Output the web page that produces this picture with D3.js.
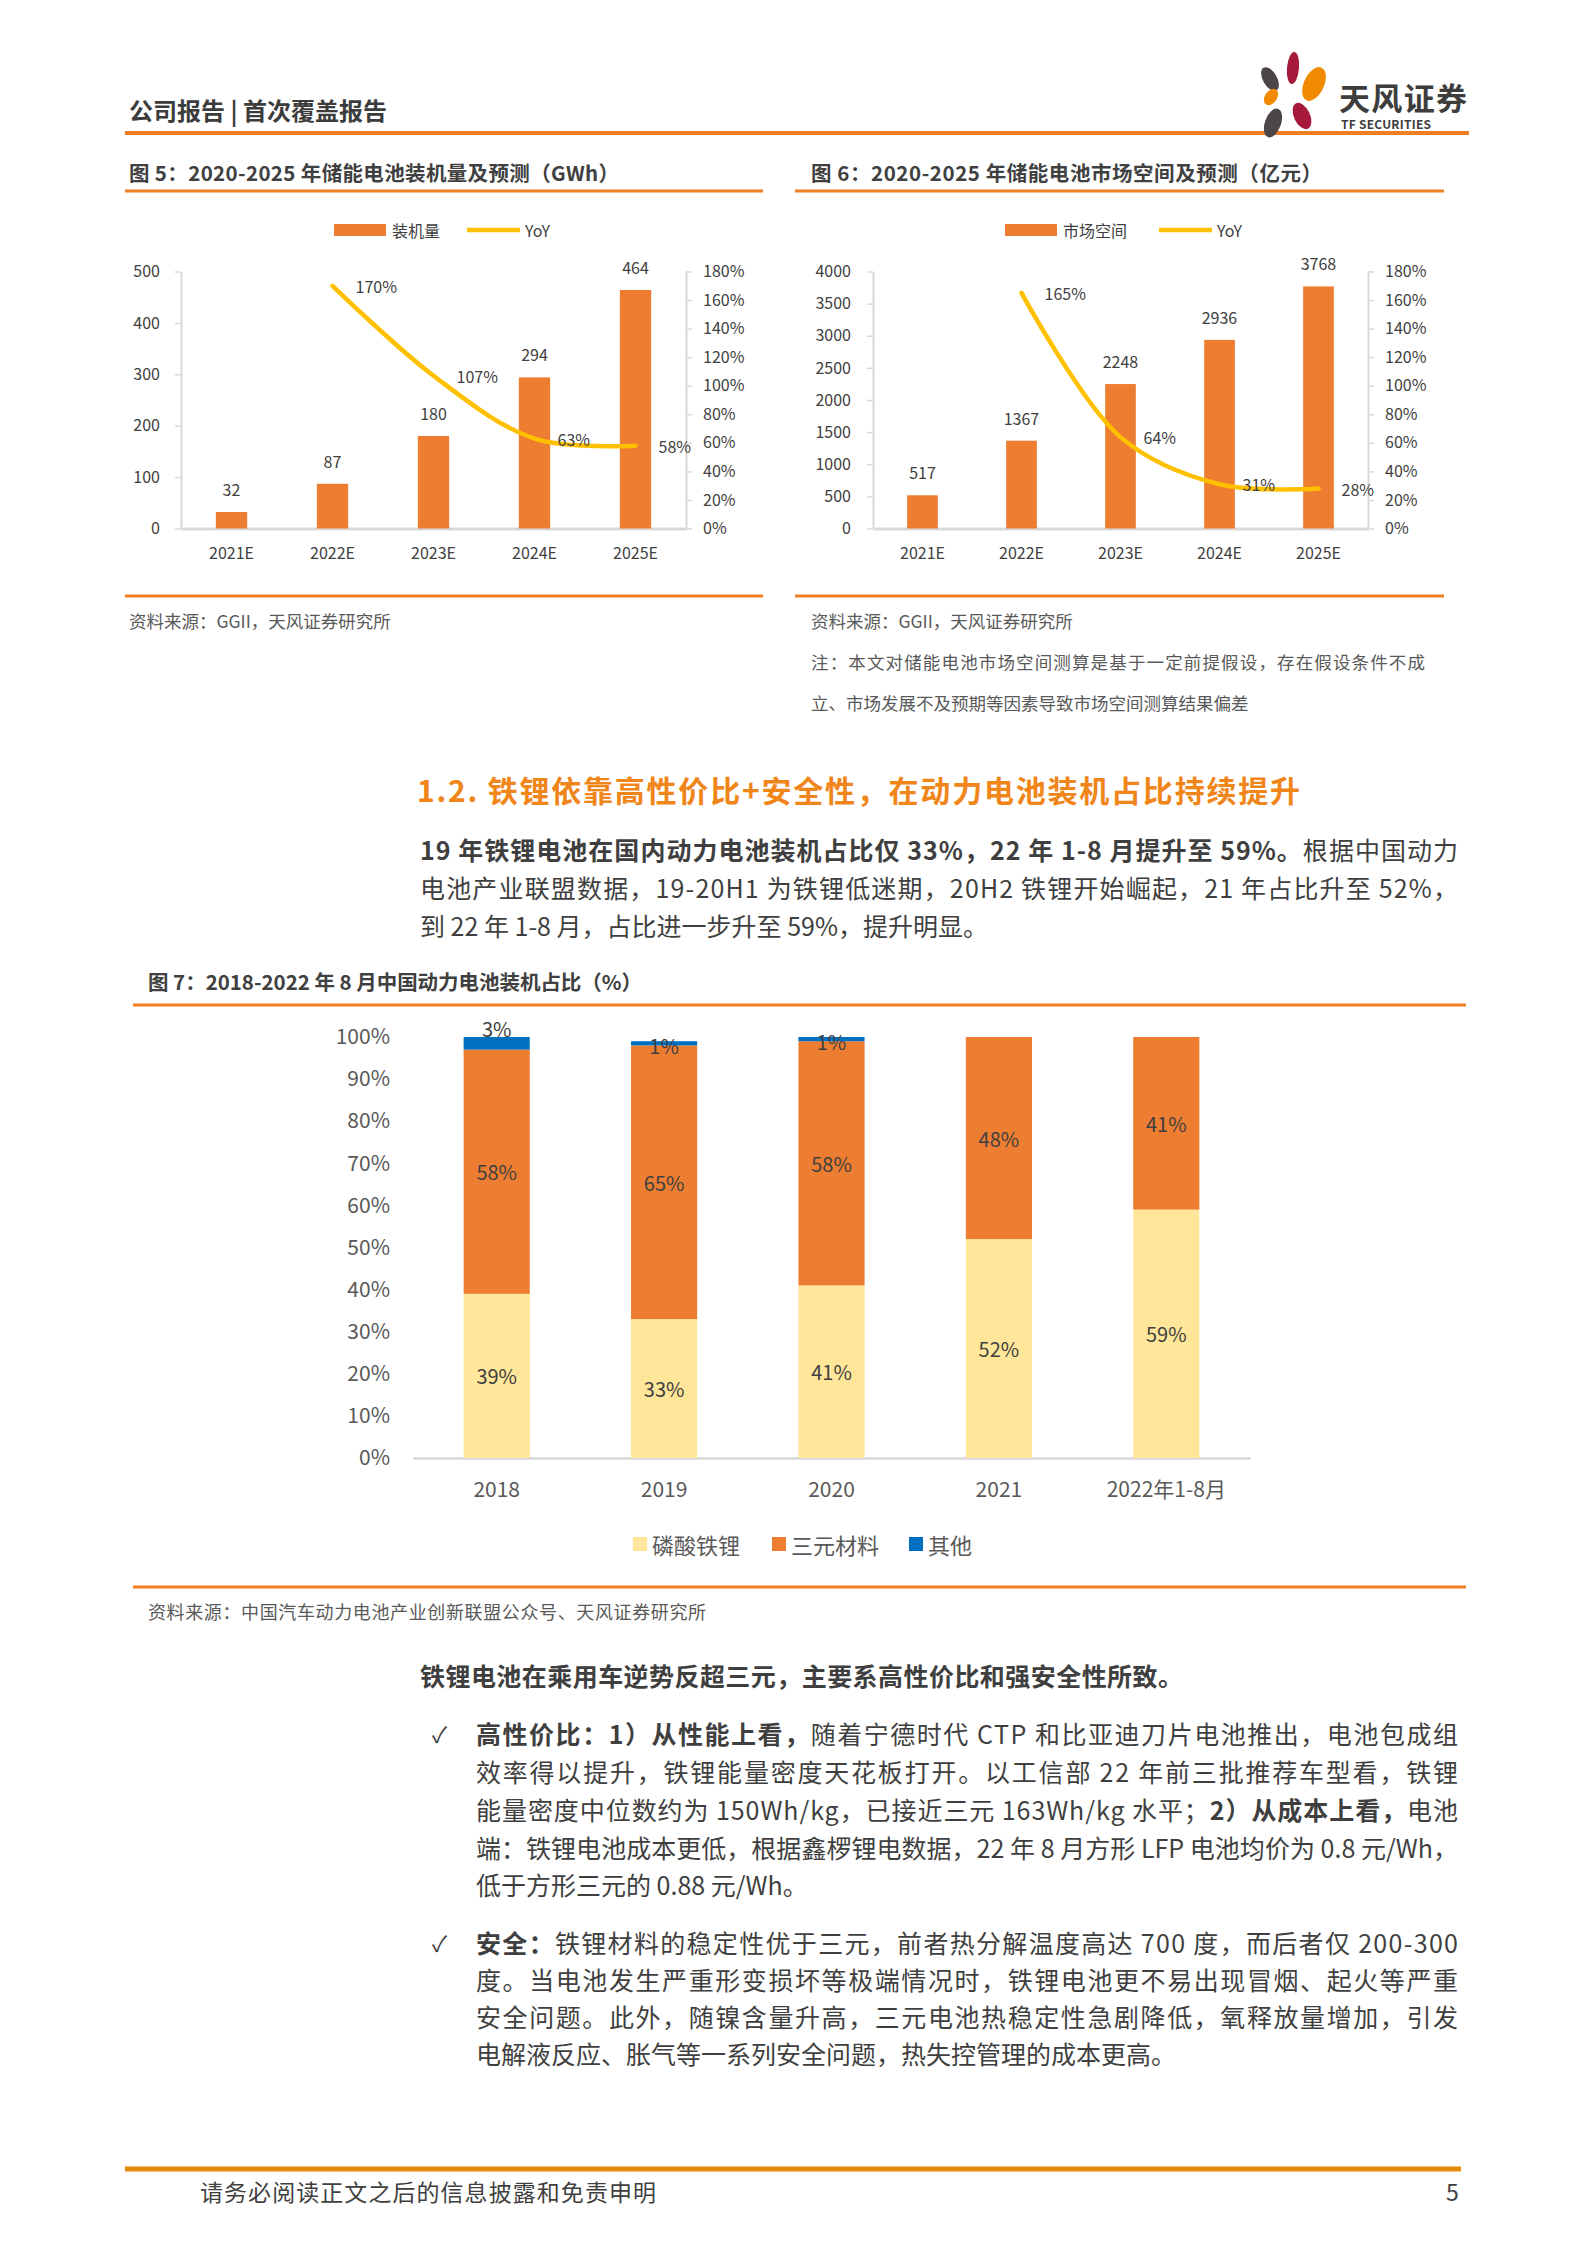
<!DOCTYPE html>
<html><head><meta charset="utf-8">
<script src="https://cdn.jsdelivr.net/npm/d3@7"></script>
<style>
body{margin:0;background:#fff;}
svg{display:block;}
text{font-family:"Noto Sans CJK SC","Noto Sans","DejaVu Sans",sans-serif;}
</style></head><body>
<svg id="page" width="1587" height="2245"></svg>
<script>
// ---------------- DATA ----------------
const fig5Years = ["2021E","2022E","2023E","2024E","2025E"];
const fig5Install = [32, 87, 180, 294, 464];
const fig5YoY = [null, 170, 107, 63, 58];
const fig5LeftTicks = [0,100,200,300,400,500];
const fig5RightTicks = [0,20,40,60,80,100,120,140,160,180];

const fig6Years = ["2021E","2022E","2023E","2024E","2025E"];
const fig6Market = [517, 1367, 2248, 2936, 3768];
const fig6YoY = [null, 165, 64, 31, 28];
const fig6LeftTicks = [0,500,1000,1500,2000,2500,3000,3500,4000];
const fig6RightTicks = [0,20,40,60,80,100,120,140,160,180];

const fig7Cats = ["2018","2019","2020","2021","2022年1-8月"];
const fig7LFP = [39, 33, 41, 52, 59];
const fig7NCM = [58, 65, 58, 48, 41];
const fig7Other = [3, 1, 1, 0, 0];
const fig7SeriesNames = ["磷酸铁锂","三元材料","其他"];
const fig7Ticks = [0,10,20,30,40,50,60,70,80,90,100];

// ---------------- COLORS ----------------
const ORANGE = "#ED7D31", YELLOW = "#FFC000", LIGHTY = "#FFE699", BLUE = "#0070C0";
const TXT = "#404040", AX = "#D9D9D9", RULE = "#EE7F22";

const page = d3.select("#page");

function text(x, y, str, o = {}) {
  const t = page.append("text").attr("x", x).attr("y", y)
    .attr("font-size", o.size || 16).attr("fill", o.color || TXT)
    .attr("font-weight", o.bold ? 700 : 400)
    .attr("text-anchor", o.anchor || "start")
    .attr("dominant-baseline", "central").text(str);
  if (o.width) t.attr("textLength", o.width).attr("lengthAdjust", "spacing");
  return t;
}
function rich(x, y, segs, o = {}) {
  const t = page.append("text").attr("x", x).attr("y", y)
    .attr("font-size", o.size || 25).attr("fill", o.color || "#3f3f3f")
    .attr("dominant-baseline", "central");
  segs.forEach(s => t.append("tspan").attr("font-weight", s.b ? 700 : 400).text(s.t));
  if (o.width) t.attr("textLength", o.width).attr("lengthAdjust", "spacing");
  return t;
}
function rule(x1, x2, y, w, c) {
  page.append("line").attr("x1", x1).attr("x2", x2).attr("y1", y).attr("y2", y)
    .attr("stroke", c || RULE).attr("stroke-width", w);
}

// ---------------- HEADER ----------------
text(129, 109, "公司报告 | 首次覆盖报告", {size: 24, bold: true, color: "#3c3c3c"});
rule(125, 1469, 133, 4);
// logo petals
const petals = [
  {cx:1293, cy:68, rx:6, ry:16, r:5, c:"#A6193A"},
  {cx:1314, cy:84, rx:10, ry:18, r:25, c:"#F08A00"},
  {cx:1270, cy:79, rx:7, ry:13, r:-30, c:"#4D4646"},
  {cx:1271, cy:97, rx:6, ry:9, r:35, c:"#F08A00"},
  {cx:1302, cy:116, rx:8, ry:14, r:-25, c:"#A6193A"},
  {cx:1273, cy:123, rx:8, ry:15, r:20, c:"#4D4646"}
];
page.selectAll("ellipse.petal").data(petals).join("ellipse").attr("class","petal")
  .attr("cx", d => d.cx).attr("cy", d => d.cy).attr("rx", d => d.rx).attr("ry", d => d.ry)
  .attr("transform", d => `rotate(${d.r},${d.cx},${d.cy})`).attr("fill", d => d.c);
text(1339, 96, "天风证券", {size: 31, bold: true, color: "#3d3d3d", width: 128});
text(1341, 123, "TF SECURITIES", {size: 12, bold: true, color: "#3d3d3d", width: 90});

// ---------------- COMBO CHART (fig5 / fig6) ----------------
function drawCombo(c) {
  const x = d3.scaleBand().domain(c.years).range([c.x0, c.x1]);
  const yL = d3.scaleLinear().domain([0, d3.max(c.leftTicks)]).range([c.yBot, c.yTop]);
  const yR = d3.scaleLinear().domain([0, d3.max(c.rightTicks)]).range([c.yBot, c.yTop]);
  const g = page.append("g");

  const gl = g.append("g").attr("transform", `translate(${c.x0},0)`)
    .call(d3.axisLeft(yL).tickValues(c.leftTicks).tickFormat(d3.format("d")).tickSize(6).tickSizeOuter(0).tickPadding(c.padL));
  const gr = g.append("g").attr("transform", `translate(${c.x1},0)`)
    .call(d3.axisRight(yR).tickValues(c.rightTicks).tickFormat(d => d + "%").tickSize(6).tickSizeOuter(0).tickPadding(c.padR));
  const gb = g.append("g").attr("transform", `translate(0,${c.yBot})`)
    .call(d3.axisBottom(x).tickSize(0).tickSizeOuter(0).tickPadding(19));
  [gl, gr, gb].forEach(a => {
    a.select(".domain").attr("stroke", AX).attr("stroke-width", 2);
    a.selectAll(".tick line").attr("stroke", AX).attr("stroke-width", 1.5);
    a.selectAll("text").attr("fill", TXT).attr("font-size", 16)
      .attr("font-family", '"Noto Sans CJK SC","Noto Sans",sans-serif');
  });
  gb.select(".domain").attr("stroke-width", 3);

  const bw = x.bandwidth() * 0.31;
  const data = c.years.map((yr, i) => ({yr, v: c.values[i], yoy: c.yoy[i]}));
  g.selectAll("rect.bar").data(data).join("rect").attr("class", "bar")
    .attr("x", d => x(d.yr) + x.bandwidth() / 2 - bw / 2).attr("width", bw)
    .attr("y", d => yL(d.v)).attr("height", d => c.yBot - yL(d.v)).attr("fill", ORANGE);
  g.selectAll("text.vl").data(data).join("text").attr("class", "vl")
    .attr("x", d => x(d.yr) + x.bandwidth() / 2).attr("y", d => yL(d.v) - 23)
    .attr("text-anchor", "middle").attr("dominant-baseline", "central")
    .attr("font-size", 16).attr("fill", TXT).text(d => d.v);

  const line = d3.line().defined(d => d.yoy != null)
    .x(d => x(d.yr) + x.bandwidth() / 2).y(d => yR(d.yoy)).curve(d3.curveCatmullRom.alpha(0.5));
  g.append("path").datum(data).attr("d", line).attr("fill", "none")
    .attr("stroke", YELLOW).attr("stroke-width", 4.5).attr("stroke-linecap", "round");
  g.selectAll("text.yl").data(data.filter(d => d.yoy != null)).join("text").attr("class", "yl")
    .attr("x", d => x(d.yr) + x.bandwidth() / 2 + 23).attr("y", d => yR(d.yoy))
    .attr("dominant-baseline", "central").attr("font-size", 16).attr("fill", TXT)
    .text(d => d.yoy + "%");

  // legend
  g.append("rect").attr("x", c.lg.rx).attr("y", c.lg.y - 6).attr("width", 52).attr("height", 12).attr("fill", ORANGE);
  text(c.lg.rx + 58, c.lg.y, c.name, {size: 16});
  g.append("line").attr("x1", c.lg.lx).attr("x2", c.lg.lx + 53).attr("y1", c.lg.y).attr("y2", c.lg.y)
    .attr("stroke", YELLOW).attr("stroke-width", 4.5);
  text(c.lg.lx + 58, c.lg.y, "YoY", {size: 16});
}

// fig 5
text(129, 172, "图 5：2020-2025 年储能电池装机量及预测（GWh）", {size: 20.5, bold: true, width: 490});
rule(125, 763, 191, 3);
drawCombo({years: fig5Years, values: fig5Install, yoy: fig5YoY, leftTicks: fig5LeftTicks, rightTicks: fig5RightTicks,
  x0: 181, x1: 686, yTop: 271.5, yBot: 528.5, padL: 15, padR: 11, name: "装机量",
  lg: {rx: 334, lx: 467, y: 230}});
rule(125, 763, 596, 3);
text(129, 620, "资料来源：GGII，天风证券研究所", {size: 17.5, color: "#595959"});

// fig 6
text(811, 172, "图 6：2020-2025 年储能电池市场空间及预测（亿元）", {size: 20.5, bold: true, width: 511});
rule(795, 1444, 191, 3);
drawCombo({years: fig6Years, values: fig6Market, yoy: fig6YoY, leftTicks: fig6LeftTicks, rightTicks: fig6RightTicks,
  x0: 873, x1: 1368, yTop: 271.5, yBot: 528.5, padL: 16, padR: 11, name: "市场空间",
  lg: {rx: 1005, lx: 1159, y: 230}});
rule(795, 1444, 596, 3);
text(811, 620, "资料来源：GGII，天风证券研究所", {size: 17.5, color: "#595959"});
text(811, 661, "注：本文对储能电池市场空间测算是基于一定前提假设，存在假设条件不成", {size: 17.5, color: "#595959", width: 614});
text(811, 702, "立、市场发展不及预期等因素导致市场空间测算结果偏差", {size: 17.5, color: "#595959"});

// ---------------- SECTION TEXT ----------------
text(417, 789, "1.2. 铁锂依靠高性价比+安全性，在动力电池装机占比持续提升", {size: 30, bold: true, color: "#F08519", width: 883});
const W1 = 1038;
rich(420, 849, [{t: "19 年铁锂电池在国内动力电池装机占比仅 33%，22 年 1-8 月提升至 59%。", b: true}, {t: "根据中国动力"}], {width: W1});
rich(420, 887, [{t: "电池产业联盟数据，19-20H1 为铁锂低迷期，20H2 铁锂开始崛起，21 年占比升至 52%，"}], {width: W1});
rich(420, 925, [{t: "到 22 年 1-8 月，占比进一步升至 59%，提升明显。"}]);

// ---------------- FIG 7 ----------------
text(148, 981, "图 7：2018-2022 年 8 月中国动力电池装机占比（%）", {size: 20.5, bold: true, width: 494});
rule(133, 1466, 1005, 3);
(function () {
  const x = d3.scaleBand().domain(fig7Cats).range([413, 1250]);
  const y = d3.scaleLinear().domain([0, 100]).range([1458, 1037]);
  const g = page.append("g");
  const gl = g.append("g").attr("transform", "translate(413,0)")
    .call(d3.axisLeft(y).tickValues(fig7Ticks).tickFormat(d => d + "%").tickSize(0).tickPadding(23));
  gl.select(".domain").remove();
  gl.selectAll("text").attr("fill", "#595959").attr("font-size", 21)
    .attr("font-family", '"Noto Sans CJK SC","Noto Sans",sans-serif');
  const gb = g.append("g").attr("transform", "translate(0,1458)")
    .call(d3.axisBottom(x).tickSize(0).tickSizeOuter(0).tickPadding(24));
  gb.select(".domain").attr("stroke", AX).attr("stroke-width", 2.5);
  gb.selectAll("text").attr("fill", "#595959").attr("font-size", 21)
    .attr("font-family", '"Noto Sans CJK SC","Noto Sans",sans-serif');

  const rows = fig7Cats.map((cat, i) => ({cat, LFP: fig7LFP[i], NCM: fig7NCM[i], Other: fig7Other[i]}));
  const stack = d3.stack().keys(["LFP", "NCM", "Other"])(rows);
  const colors = [LIGHTY, ORANGE, BLUE];
  const bw = x.bandwidth() * 0.395;
  stack.forEach((layer, li) => {
    g.selectAll("rect.s" + li).data(layer.filter(d => d[1] > d[0])).join("rect").attr("class", "s" + li)
      .attr("x", d => x(d.data.cat) + x.bandwidth() / 2 - bw / 2).attr("width", bw)
      .attr("y", d => y(d[1])).attr("height", d => y(d[0]) - y(d[1])).attr("fill", colors[li]);
  });
  stack.forEach((layer, li) => {
    layer.filter(d => d[1] > d[0]).forEach(d => {
      const v = d[1] - d[0];
      let yy = y((d[0] + d[1]) / 2);
      if (li === 2) yy = v >= 2 ? y(d[1]) - 9 : y(d[1]) + 4;
      text(x(d.data.cat) + x.bandwidth() / 2, yy, v + "%", {size: 20, anchor: "middle", color: TXT});
    });
  });
  // legend
  const lx = [633, 772, 909];
  fig7SeriesNames.forEach((n, i) => {
    g.append("rect").attr("x", lx[i]).attr("y", 1537).attr("width", 14).attr("height", 14).attr("fill", colors[i]);
    text(lx[i] + 19, 1544, n, {size: 22, color: "#595959"});
  });
})();
rule(133, 1466, 1587, 3);
text(148, 1611, "资料来源：中国汽车动力电池产业创新联盟公众号、天风证券研究所", {size: 18, color: "#595959", width: 558});

// ---------------- BULLETS ----------------
text(420, 1675, "铁锂电池在乘用车逆势反超三元，主要系高性价比和强安全性所致。", {size: 25, bold: true, color: "#3f3f3f", width: 763});
const W2 = 982, BX = 476;
text(432, 1733, "✓", {size: 22, color: "#3f3f3f"});
rich(BX, 1733, [{t: "高性价比：1）从性能上看，", b: true}, {t: "随着宁德时代 CTP 和比亚迪刀片电池推出，电池包成组"}], {width: W2});
rich(BX, 1771, [{t: "效率得以提升，铁锂能量密度天花板打开。以工信部 22 年前三批推荐车型看，铁锂"}], {width: W2});
rich(BX, 1809, [{t: "能量密度中位数约为 150Wh/kg，已接近三元 163Wh/kg 水平；"}, {t: "2）从成本上看，", b: true}, {t: "电池"}], {width: W2});
rich(BX, 1847, [{t: "端：铁锂电池成本更低，根据鑫椤锂电数据，22 年 8 月方形 LFP 电池均价为 0.8 元/Wh，"}], {width: W2});
rich(BX, 1884, [{t: "低于方形三元的 0.88 元/Wh。"}]);
text(432, 1942, "✓", {size: 22, color: "#3f3f3f"});
rich(BX, 1942, [{t: "安全：", b: true}, {t: "铁锂材料的稳定性优于三元，前者热分解温度高达 700 度，而后者仅 200-300"}], {width: W2});
rich(BX, 1979, [{t: "度。当电池发生严重形变损坏等极端情况时，铁锂电池更不易出现冒烟、起火等严重"}], {width: W2});
rich(BX, 2016, [{t: "安全问题。此外，随镍含量升高，三元电池热稳定性急剧降低，氧释放量增加，引发"}], {width: W2});
rich(BX, 2053, [{t: "电解液反应、胀气等一系列安全问题，热失控管理的成本更高。"}]);

// ---------------- FOOTER ----------------
rule(125, 1461, 2169, 5, "#E68A0C");
text(200, 2191, "请务必阅读正文之后的信息披露和免责申明", {size: 23, color: "#3f3f3f", width: 456});
text(1446, 2191, "5", {size: 23, color: "#3f3f3f"});
</script>
</body></html>
